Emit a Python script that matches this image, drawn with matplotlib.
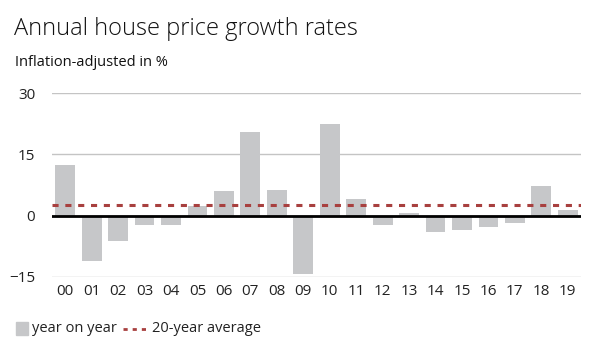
import matplotlib.pyplot as plt
from matplotlib.patches import Rectangle
from matplotlib.lines import Line2D

plt.rcParams["font.family"] = ["Open Sans", "DejaVu Sans"]

years = ["00", "01", "02", "03", "04", "05", "06", "07", "08", "09",
         "10", "11", "12", "13", "14", "15", "16", "17", "18", "19"]
growth = [12.4, -11.0, -6.2, -2.4, -2.2, 2.4, 6.1, 20.5, 6.3, -14.2,
          22.3, 4.0, -2.3, 0.7, -4.0, -3.5, -2.8, -1.8, 7.3, 1.5]
avg_20y = 2.6

BAR_COLOR = "#c6c7c9"
AVG_COLOR = "#a8403f"

fig = plt.figure(figsize=(6, 3.6), dpi=100)
ax = fig.add_axes([52 / 600, 1 - 277 / 360, 529 / 600, 184 / 360])

x = list(range(len(years)))
ax.bar(x, growth, width=0.75, color=BAR_COLOR, zorder=2)
ax.axhline(0, color="black", linewidth=2, zorder=3)
ax.axhline(avg_20y, color=AVG_COLOR, linewidth=2.2, linestyle=(0, (2, 2.2)), zorder=4)

ax.set_xlim(-0.5, len(years) - 0.5)
ax.set_ylim(-15, 30)
ax.set_yticks([-15, 0, 15, 30])
ax.set_yticklabels(["\u221215", "0", "15", "30"])
ax.set_xticks(x)
ax.set_xticklabels(years)
ax.grid(axis="y", color="#c4c4c4", linewidth=1, zorder=0)
for s in ax.spines.values():
    s.set_visible(False)
ax.tick_params(length=0, labelsize=11, colors="#222222")
ax.tick_params(axis="y", pad=12)
ax.tick_params(axis="x", pad=5)

fig.text(14 / 600, 1 - 29 / 360, "Annual house price growth rates",
         fontsize=17, va="center", color="#111111", fontweight="light")
fig.text(15 / 600, 1 - 62 / 360, "Inflation-adjusted in %",
         fontsize=10.5, va="center", color="#111111")

# legend
fig.patches.append(Rectangle((16 / 600, 1 - 335 / 360), 12 / 600, 13 / 360,
                             transform=fig.transFigure, color=BAR_COLOR))
fig.text(32 / 600, 1 - 329 / 360, "year on year", fontsize=10.5, va="center", color="#222222")
fig.lines.append(Line2D([123 / 600, 146 / 600], [1 - 329 / 360, 1 - 329 / 360],
                        transform=fig.transFigure, color=AVG_COLOR,
                        linewidth=2, linestyle=(0, (1.5, 1.8))))
fig.text(152 / 600, 1 - 329 / 360, "20-year average", fontsize=10.5, va="center", color="#222222")

fig.savefig("out.png", dpi=100)
